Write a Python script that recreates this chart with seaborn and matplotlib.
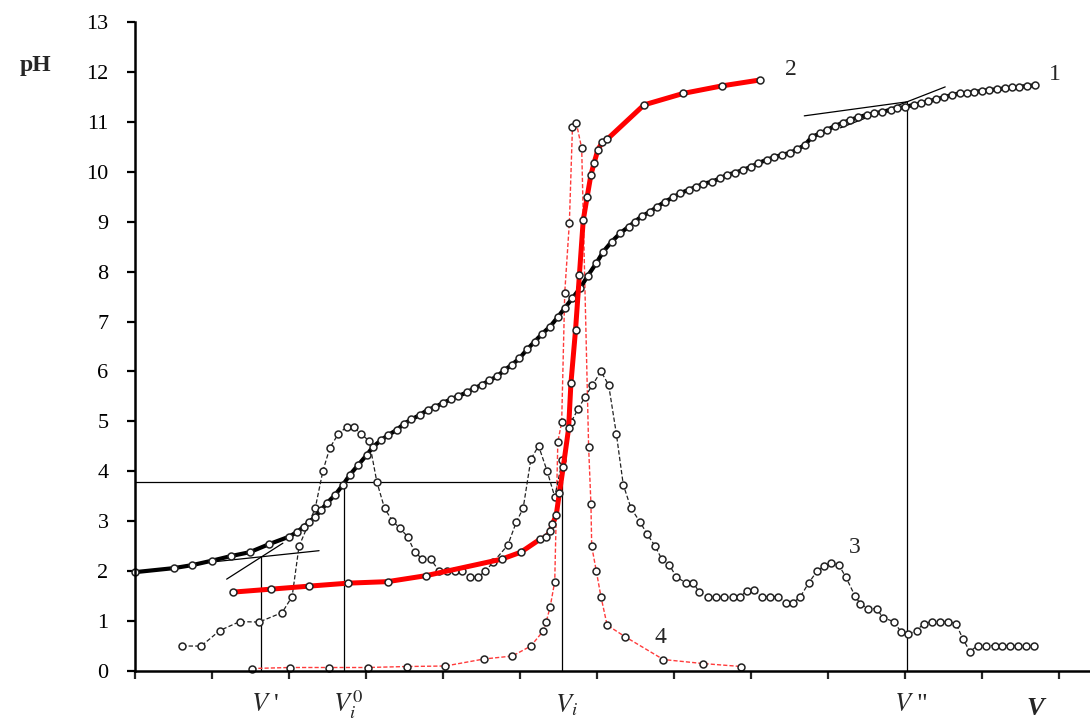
import matplotlib
matplotlib.use('Agg')
import matplotlib.pyplot as plt
import matplotlib.transforms as mtransforms
import seaborn as sns

# curve 1 - titration curve (black, dense points)
v1 = [0.00, 0.50, 0.74, 1.00, 1.24, 1.49, 1.74, 2.00, 2.10, 2.19, 2.26, 2.34, 2.42, 2.49,
      2.60, 2.70, 2.79, 2.90, 3.01, 3.09, 3.20, 3.29, 3.40, 3.49, 3.59, 3.70, 3.80, 3.90,
      4.00, 4.10, 4.20, 4.31, 4.40, 4.50, 4.60, 4.70, 4.79, 4.89, 4.99, 5.09, 5.19, 5.29,
      5.39, 5.49, 5.58, 5.68, 5.78, 5.88, 5.99, 6.08, 6.19, 6.30, 6.41, 6.49, 6.58, 6.69,
      6.78, 6.88, 6.99, 7.08, 7.19, 7.29, 7.38, 7.49, 7.60, 7.69, 7.79, 7.90, 8.00, 8.09,
      8.20, 8.30, 8.40, 8.51, 8.60, 8.70, 8.79, 8.90, 8.99, 9.09, 9.19, 9.29, 9.39, 9.50,
      9.60, 9.70, 9.81, 9.90, 10.00, 10.11, 10.20, 10.30, 10.40, 10.50, 10.61, 10.71, 10.80,
      10.90, 11.00, 11.09, 11.19, 11.29, 11.39, 11.48, 11.58, 11.69]
ph1 = [1.98, 2.06, 2.12, 2.21, 2.30, 2.38, 2.54, 2.69, 2.78, 2.89, 2.98, 3.09, 3.23, 3.36,
       3.53, 3.73, 3.93, 4.13, 4.33, 4.49, 4.63, 4.73, 4.83, 4.95, 5.04, 5.13, 5.23, 5.29,
       5.37, 5.44, 5.51, 5.58, 5.66, 5.73, 5.82, 5.90, 6.02, 6.13, 6.26, 6.44, 6.60, 6.76,
       6.90, 7.09, 7.27, 7.47, 7.67, 7.92, 8.17, 8.40, 8.60, 8.77, 8.90, 9.00, 9.11, 9.20,
       9.30, 9.40, 9.49, 9.57, 9.64, 9.70, 9.76, 9.80, 9.87, 9.94, 9.98, 10.04, 10.10, 10.17,
       10.24, 10.29, 10.34, 10.38, 10.45, 10.54, 10.70, 10.77, 10.84, 10.92, 10.98, 11.04,
       11.09, 11.14, 11.17, 11.20, 11.24, 11.27, 11.30, 11.34, 11.37, 11.41, 11.45, 11.49,
       11.54, 11.57, 11.58, 11.60, 11.62, 11.64, 11.65, 11.67, 11.69, 11.70, 11.72, 11.73]

# curve 2 - red titration curve
v2 = [1.27, 1.77, 2.26, 2.77, 3.28, 3.78, 4.76, 5.01, 5.26, 5.34, 5.39, 5.42, 5.47, 5.51,
      5.56, 5.63, 5.66, 5.72, 5.77, 5.82, 5.87, 5.92, 5.96, 6.01, 6.07, 6.13, 6.61, 7.12,
      7.62, 8.12]
ph2 = [1.58, 1.64, 1.70, 1.76, 1.79, 1.91, 2.24, 2.38, 2.64, 2.69, 2.80, 2.94, 3.13, 3.56,
       4.08, 4.86, 5.76, 6.83, 7.93, 9.03, 9.49, 9.94, 10.17, 10.44, 10.60, 10.65, 11.34,
       11.57, 11.72, 11.84]

# curve 3 - derivative of curve 1 (black dashed)
v3 = [0.61, 0.86, 1.10, 1.36, 1.61, 1.91, 2.04, 2.13, 2.34, 2.44, 2.53, 2.64, 2.75, 2.84,
      2.94, 3.04, 3.14, 3.24, 3.34, 3.44, 3.54, 3.63, 3.73, 3.84, 3.95, 4.05, 4.16, 4.25,
      4.35, 4.45, 4.55, 4.65, 4.84, 4.95, 5.04, 5.14, 5.24, 5.35, 5.45, 5.55, 5.66, 5.75,
      5.84, 5.94, 6.05, 6.15, 6.25, 6.34, 6.44, 6.56, 6.65, 6.75, 6.84, 6.94, 7.03, 7.15,
      7.25, 7.32, 7.44, 7.55, 7.65, 7.76, 7.86, 7.94, 8.04, 8.14, 8.25, 8.35, 8.45, 8.55,
      8.64, 8.75, 8.86, 8.95, 9.04, 9.14, 9.23, 9.35, 9.42, 9.52, 9.63, 9.71, 9.85, 9.95,
      10.04, 10.15, 10.24, 10.35, 10.45, 10.55, 10.66, 10.75, 10.84, 10.94, 11.05, 11.16,
      11.26, 11.36, 11.46, 11.57, 11.67]
ph3 = [0.50, 0.50, 0.81, 0.99, 0.98, 1.17, 1.49, 2.50, 3.26, 4.01, 4.47, 4.75, 4.89, 4.88,
       4.74, 4.61, 3.79, 3.26, 3.01, 2.86, 2.69, 2.39, 2.24, 2.24, 2.00, 2.00, 2.00, 2.00,
       1.88, 1.88, 2.00, 2.18, 2.52, 2.98, 3.26, 4.24, 4.51, 4.01, 3.49, 4.23, 4.98, 5.24,
       5.48, 5.73, 6.00, 5.73, 4.75, 3.73, 3.26, 2.98, 2.74, 2.51, 2.24, 2.12, 1.88, 1.77,
       1.77, 1.59, 1.48, 1.48, 1.48, 1.48, 1.48, 1.61, 1.62, 1.49, 1.49, 1.49, 1.37, 1.37,
       1.49, 1.77, 2.01, 2.10, 2.16, 2.12, 1.88, 1.50, 1.34, 1.25, 1.25, 1.07, 0.99, 0.78,
       0.74, 0.81, 0.95, 0.99, 0.99, 0.99, 0.95, 0.64, 0.39, 0.51, 0.51, 0.51, 0.51, 0.51,
       0.51, 0.51, 0.51]

# curve 4 - derivative of curve 2 (red dashed)
v4 = [1.52, 2.01, 2.52, 3.02, 3.53, 4.03, 4.53, 4.90, 5.14, 5.30, 5.34, 5.39, 5.45, 5.49,
      5.54, 5.58, 5.64, 5.68, 5.73, 5.80, 5.89, 5.92, 5.93, 5.99, 6.05, 6.13, 6.36, 6.86,
      7.37, 7.87]
ph4 = [0.05, 0.07, 0.07, 0.07, 0.09, 0.10, 0.24, 0.30, 0.50, 0.80, 0.99, 1.28, 1.79, 4.59,
       4.98, 7.58, 8.98, 10.89, 10.98, 10.47, 4.49, 3.34, 2.50, 2.00, 1.49, 0.92, 0.69, 0.23,
       0.15, 0.09]

# construction lines
v_marks = [1.64, 2.72, 5.55, 10.02]
v_tops = [2.28, 3.79, 3.79, 11.39]
v_names = ["$V$ '", "$V_i^0$", "$V_i$", '$V$ "']
ph_half = 3.79
tangent1 = ([1.04, 2.39], [2.19, 2.41])
tangent2 = ([1.19, 1.92], [1.84, 2.56])
tangent3 = ([8.69, 10.02], [11.12, 11.40])
tangent4 = ([9.16, 10.52], [10.88, 11.70])

sns.set_theme(style="white")
plt.rcParams['font.family'] = ['Liberation Serif', 'DejaVu Serif']
plt.rcParams['mathtext.fontset'] = 'stix'

fig = plt.figure(figsize=(10.9, 7.22), dpi=100)
ax = fig.add_axes([135 / 1090, 51 / 722, 955 / 1090, 649 / 722])

# construction lines
thin = dict(color='black', lw=0.9)
ax.plot([0, v_marks[2]], [ph_half, ph_half], **thin)
for xm, top in zip(v_marks, v_tops):
    ax.plot([xm, xm], [0, top], **thin)
for tx, ty in (tangent1, tangent2, tangent3, tangent4):
    ax.plot(tx, ty, **thin)

mk = dict(marker='o', markersize=5, markerfacecolor='white',
          markeredgecolor='#222222', markeredgewidth=1.1)

sns.lineplot(x=v4, y=ph4, ax=ax, color='#ff3b3b', lw=1.0,
             linestyle=(0, (3, 1.5)), estimator=None, sort=False, clip_on=False, **mk)
sns.lineplot(x=v3, y=ph3, ax=ax, color='#202020', lw=0.9,
             linestyle=(0, (3.5, 1.8)), estimator=None, sort=False, clip_on=False, **mk)
sns.lineplot(x=v1, y=ph1, ax=ax, color='black', lw=3.0,
             estimator=None, sort=False, clip_on=False, **mk)
sns.lineplot(x=v2, y=ph2, ax=ax, color='#ff0000', lw=3.6,
             estimator=None, sort=False, clip_on=False, **mk)

ax.set_xlim(0, 12.4)
ax.set_ylim(0, 13)
ax.set_xticks(range(0, 13))
ax.set_xticklabels([])
ax.set_yticks(range(0, 14))
ax.set_xlabel('')
ax.set_ylabel('')
ax.tick_params(axis='y', direction='out', length=6, width=1.6, labelsize=16, pad=13,
               left=True, colors='black')
ax.tick_params(axis='x', direction='out', length=6, width=1.6, bottom=True)
sns.despine(ax=ax)
for side in ('left', 'bottom'):
    ax.spines[side].set_linewidth(1.8)
    ax.spines[side].set_color('black')

# curve numbers
ax.text(11.95, 11.94, '1', fontsize=17, ha='center', va='center')
ax.text(8.51, 12.04, '2', fontsize=17, ha='center', va='center')
ax.text(9.35, 2.48, '3', fontsize=17, ha='center', va='center')
ax.text(6.82, 0.68, '4', fontsize=17, ha='center', va='center')

fig.text(35 / 1090, 1 - 65 / 722, 'pH', fontsize=17, fontweight='bold',
         ha='center', va='center')

trans = mtransforms.blended_transform_factory(ax.transData, ax.transAxes)
for xm, name in zip(v_marks, v_names):
    ax.text(xm + 0.05, -0.052, name, fontsize=19, ha='center', va='center',
            transform=trans)
ax.text(11.69, -0.040, 'V', fontsize=19, fontweight='bold', fontstyle='italic',
        ha='center', va='top', transform=trans)

fig.savefig('out.png', dpi=100)
